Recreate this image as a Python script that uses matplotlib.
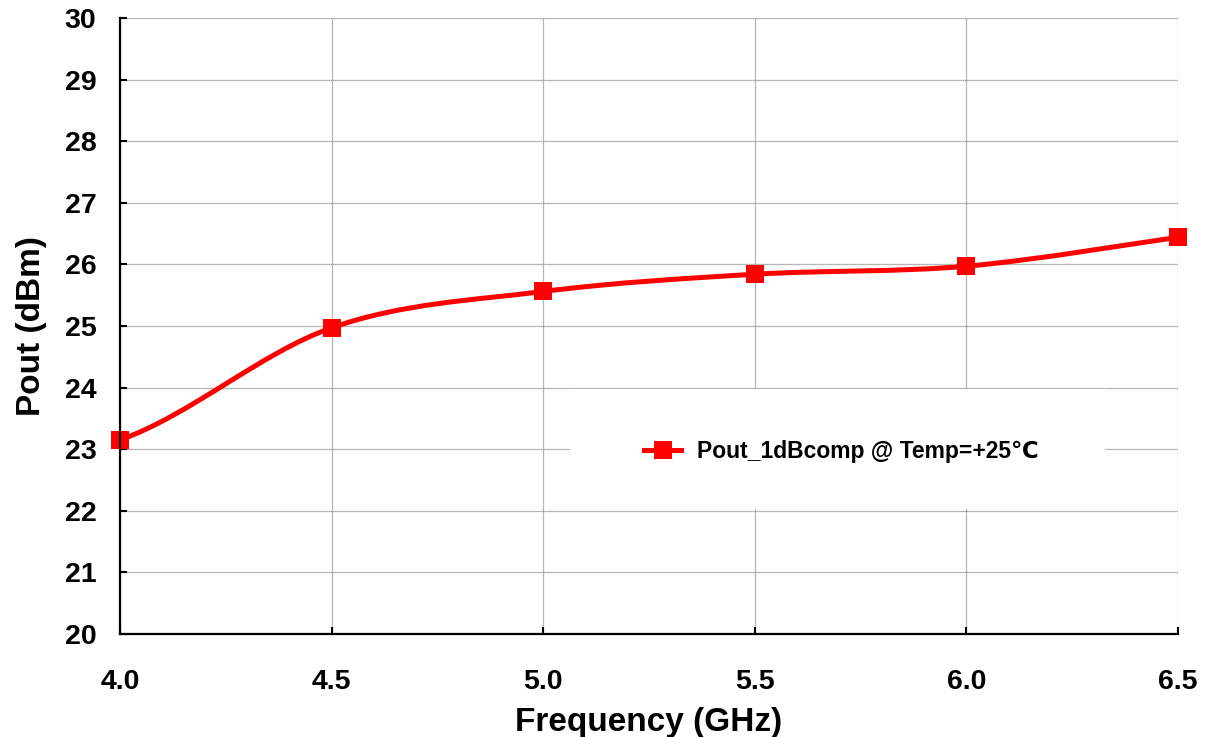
import numpy as np
import matplotlib.pyplot as plt
from matplotlib.path import Path
from matplotlib.patches import PathPatch, Rectangle
from matplotlib.lines import Line2D

# Measured output power at 1 dB compression
freq_ghz = [4.0, 4.5, 5.0, 5.5, 6.0, 6.5]
pout_dbm = [23.15, 24.97, 25.56, 25.84, 25.97, 26.44]
series_label = 'Pout_1dBcomp @ Temp=+25℃'

x_ticks = [4.0, 4.5, 5.0, 5.5, 6.0, 6.5]
y_ticks = list(range(20, 31))

RED = '#ff0000'
FONT = ['Liberation Sans', 'DejaVu Sans']
plt.rcParams['font.family'] = FONT
plt.rcParams['font.weight'] = 'bold'


def smooth_path(xs, ys):
    # Bezier segments through every point (spreadsheet-style smoothed line)
    pts = np.column_stack([xs, ys]).astype(float)
    n = len(pts)
    tang = np.zeros_like(pts)
    for i in range(1, n - 1):
        tang[i] = (pts[i + 1] - pts[i - 1]) / 6.0
    # start leaves parallel to its neighbour, end runs in along the chord
    tang[0] = tang[1]
    tang[-1] = (pts[-1] - pts[-2]) / 6.0
    verts = [pts[0]]
    codes = [Path.MOVETO]
    for i in range(n - 1):
        verts += [pts[i] + tang[i], pts[i + 1] - tang[i + 1], pts[i + 1]]
        codes += [Path.CURVE4] * 3
    return Path(verts, codes)


fig = plt.figure(figsize=(12.08, 7.37), dpi=100)
ax = fig.add_axes([0.0993, 0.1398, 0.8759, 0.8358])

ax.set_xlim(4.0, 6.5)
ax.set_ylim(20, 30)
ax.set_xticks(x_ticks)
ax.set_xticklabels([f'{v:.1f}' for v in x_ticks])
ax.set_yticks(y_ticks)

ax.grid(True, color='#8c8c8c', linestyle=(0, (1, 0.6)), linewidth=0.9, zorder=0)
ax.set_axisbelow(True)

for side in ('top', 'right'):
    ax.spines[side].set_visible(False)
for side in ('left', 'bottom'):
    ax.spines[side].set_linewidth(1.6)
    ax.spines[side].set_color('black')
    ax.spines[side].set_zorder(5)

ax.tick_params(direction='in', length=5, width=1.5, labelsize=20.5)
ax.tick_params(axis='y', pad=17)
ax.tick_params(axis='x', pad=25)

# white legend panel over the grid
ax.add_patch(Rectangle((5.063, 22.03), 1.264, 1.94, facecolor='white',
                       edgecolor='none', zorder=1))

ax.add_patch(PathPatch(smooth_path(freq_ghz, pout_dbm), facecolor='none',
                       edgecolor=RED, linewidth=3.6, zorder=3,
                       capstyle='round', joinstyle='round'))
ax.plot(freq_ghz, pout_dbm, linestyle='none', marker='s', markersize=13,
        color=RED, markeredgewidth=0, zorder=4, clip_on=False)

handle = Line2D([], [], color=RED, linewidth=3.6, marker='s', markersize=13,
                markeredgewidth=0)
leg = ax.legend([handle], [series_label], loc='center',
                bbox_to_anchor=(0.682, 0.296), frameon=False,
                prop={'size': 16.5, 'weight': 'bold', 'family': FONT},
                handlelength=1.6, handletextpad=0.7)
leg.set_zorder(6)

ax.set_xlabel('Frequency (GHz)', fontsize=24, fontweight='bold', labelpad=9)
ax.set_ylabel('Pout (dBm)', fontsize=24, fontweight='bold', labelpad=13)

fig.savefig('out.png', dpi=100)
